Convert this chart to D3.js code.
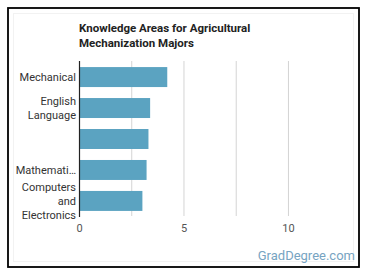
<!DOCTYPE html>
<html><head><meta charset="utf-8">
<script src="https://cdn.jsdelivr.net/npm/d3@7"></script>
<style>
body{margin:0;background:#fff;}
svg{display:block;font-family:Roboto,"Noto Sans",sans-serif;}
</style></head>
<body><svg id="c" width="370" height="278"></svg>
<script>
const categories = [["Mechanical"],["English","Language"],[""],["Mathemati…"],["Computers","and","Electronics"]];
const values = [4.2, 3.38, 3.3, 3.21, 3.01];
const tickValues = [0,5,10];
const gridValues = [0,2.5,5,7.5,10];
const titleLines = ["Knowledge Areas for Agricultural","Mechanization Majors"];

const svg = d3.select("#c");
svg.append("rect").attr("x",8).attr("y",8).attr("width",351).attr("height",259)
  .attr("fill","#fff").attr("stroke","#000").attr("stroke-width",1.8);
svg.append("rect").attr("x",13.5).attr("y",13.5).attr("width",340).attr("height",248)
  .attr("fill","none").attr("stroke","#f2f2f2").attr("stroke-width",1);

const x = d3.scaleLinear().domain([0,12.5]).range([79.5,340.7]);
const y = d3.scaleBand().domain(d3.range(categories.length)).range([61.5,216.5]).paddingInner(0.355).paddingOuter(0.18);

svg.append("g").selectAll("line").data(gridValues.slice(1)).join("line")
  .attr("x1",d=>x(d)).attr("x2",d=>x(d)).attr("y1",61).attr("y2",216)
  .attr("stroke","#d4d4d4").attr("stroke-width",1);

svg.append("g").selectAll("rect").data(values).join("rect")
  .attr("x",x(0)).attr("y",(d,i)=>y(i)).attr("width",d=>x(d)-x(0)).attr("height",y.bandwidth())
  .attr("fill","#5ba3c1");

svg.append("line").attr("x1",x(0)).attr("x2",x(0)).attr("y1",61).attr("y2",217)
  .attr("stroke","#222").attr("stroke-width",1.2);

const lab = svg.append("g").attr("font-size",11).attr("fill","#333").attr("text-anchor","end");
categories.forEach((lines,i)=>{
  const cy = y(i)+y.bandwidth()/2;
  const lh = 14;
  lines.forEach((t,j)=>{
    lab.append("text").attr("x",76).attr("y",cy+(j-(lines.length-1)/2)*lh).attr("dy","0.35em").text(t);
  });
});

svg.append("g").attr("font-size",11).attr("fill","#555").attr("text-anchor","middle")
  .selectAll("text").data(tickValues).join("text")
  .attr("x",d=>x(d)).attr("y",228).attr("dy","0.35em").text(d=>d);

svg.append("g").attr("font-size",11.5).attr("font-weight","bold").attr("fill","#222")
  .selectAll("text").data(titleLines).join("text")
  .attr("x",79).attr("y",(d,i)=>32+i*15).text(d=>d);

svg.append("text").attr("x",355).attr("y",260).attr("text-anchor","end")
  .attr("font-size",13).attr("fill","#77a4c2").text("GradDegree.com");
</script></body></html>
